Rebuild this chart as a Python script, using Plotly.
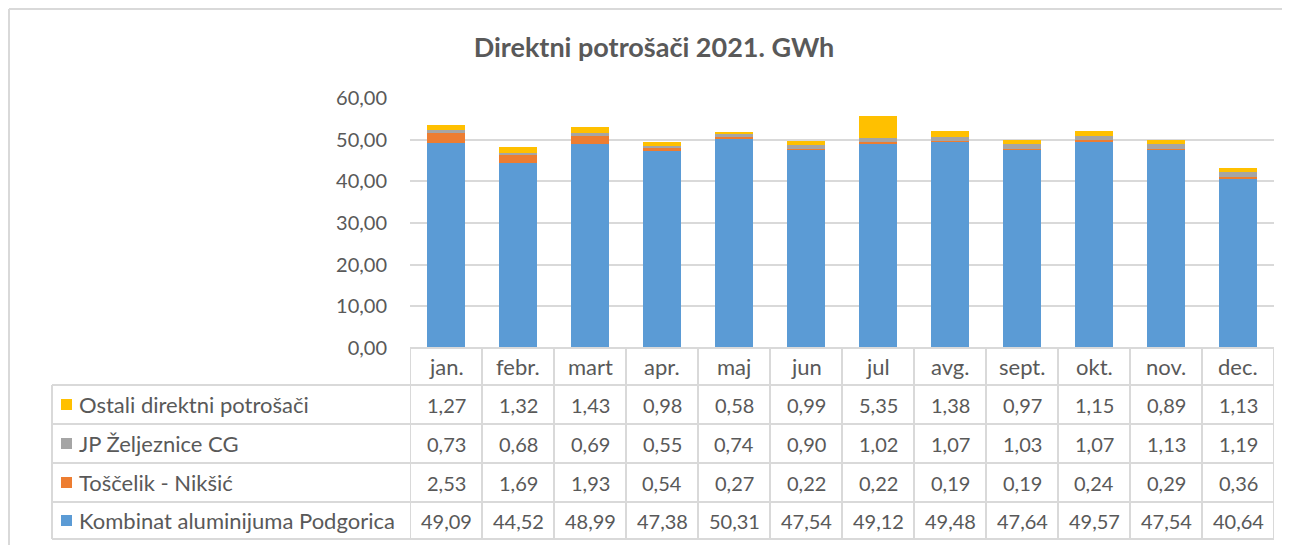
import plotly.graph_objects as go

months = ["jan.", "febr.", "mart", "apr.", "maj", "jun", "jul", "avg.", "sept.", "okt.", "nov.", "dec."]
kap = [49.09, 44.52, 48.99, 47.38, 50.31, 47.54, 49.12, 49.48, 47.64, 49.57, 47.54, 40.64]
toscelik = [2.53, 1.69, 1.93, 0.54, 0.27, 0.22, 0.22, 0.19, 0.19, 0.24, 0.29, 0.36]
zeljeznice = [0.73, 0.68, 0.69, 0.55, 0.74, 0.90, 1.02, 1.07, 1.03, 1.07, 1.13, 1.19]
ostali = [1.27, 1.32, 1.43, 0.98, 0.58, 0.99, 5.35, 1.38, 0.97, 1.15, 0.89, 1.13]

series_names = ["Kombinat aluminijuma Podgorica", "Toščelik - Nikšić", "JP Željeznice CG", "Ostali direktni potrošači"]
series_vals = [kap, toscelik, zeljeznice, ostali]
colors = ["#5B9BD5", "#ED7D31", "#A5A5A5", "#FFC000"]
title = "Direktni potrošači 2021. GWh"

FONT = "Lato"
TXT = "#595959"
GRID = "#D9D9D9"
FS_NUM = 20
FS_TXT = 22

OFF = 8  # page body margin
Wfig, Hfig = 1282, 537
# reference screen coordinates
L, R = 410, 1274
T, B = 98, 348
W, H = R - L, B - T


def px(x):
    return (x - L) / W


def py(y):
    return (B - y) / H


fig = go.Figure()
for name, vals, c in zip(series_names, series_vals, colors):
    fig.add_trace(go.Bar(x=months, y=vals, name=name, marker=dict(color=c, line=dict(width=0)),
                         width=0.515, showlegend=False))

shapes = []
annotations = []

# outer chart border (only left and top visible in the frame)
shapes.append(dict(type="line", xref="paper", yref="paper", x0=px(OFF + 1), x1=px(OFF + Wfig), y0=py(OFF + 1), y1=py(OFF + 1),
                   line=dict(color=GRID, width=2), layer="below"))
shapes.append(dict(type="line", xref="paper", yref="paper", x0=px(OFF + 1), x1=px(OFF + 1), y0=py(OFF + 1), y1=py(OFF + Hfig),
                   line=dict(color=GRID, width=2), layer="below"))

# table geometry
row_edges = [348, 385, 424, 463, 502, 539]
left_edge = 52
shapes.append(dict(type="line", xref="paper", yref="paper", x0=0, x1=1, y0=py(row_edges[0]), y1=py(row_edges[0]),
                   line=dict(color=GRID, width=2)))
for yy in row_edges[1:]:
    shapes.append(dict(type="line", xref="paper", yref="paper", x0=px(left_edge), x1=1, y0=py(yy), y1=py(yy),
                       line=dict(color=GRID, width=2)))
for k in range(len(months) + 1):
    shapes.append(dict(type="line", xref="x", yref="paper", x0=k - 0.5, x1=k - 0.5,
                       y0=py(row_edges[0]), y1=py(row_edges[-1]), line=dict(color=GRID, width=2)))
shapes.append(dict(type="line", xref="paper", yref="paper", x0=px(left_edge), x1=px(left_edge),
                   y0=py(row_edges[1]), y1=py(row_edges[-1]), line=dict(color=GRID, width=2)))

# header row month labels
hc = (row_edges[0] + row_edges[1]) / 2
for i, m in enumerate(months):
    annotations.append(dict(x=i, y=py(hc), xref="x", yref="paper", text=m, showarrow=False,
                            font=dict(family=FONT, size=FS_TXT, color=TXT), xanchor="center", yanchor="middle"))

order = [3, 2, 1, 0]
for r, si in enumerate(order):
    yc = (row_edges[r + 1] + row_edges[r + 2]) / 2
    shapes.append(dict(type="rect", xref="paper", yref="paper", x0=px(61), x1=px(72),
                       y0=py(yc + 5.5), y1=py(yc - 5.5), fillcolor=colors[si], line=dict(width=0)))
    annotations.append(dict(x=px(77), y=py(yc), xref="paper", yref="paper", text=series_names[si],
                            showarrow=False, font=dict(family=FONT, size=FS_TXT, color=TXT),
                            xanchor="left", yanchor="middle"))
    for i, v in enumerate(series_vals[si]):
        annotations.append(dict(x=i, y=py(yc), xref="x", yref="paper",
                                text=f"{v:.2f}".replace(".", ","), showarrow=False,
                                font=dict(family=FONT, size=FS_NUM, color=TXT), xanchor="center", yanchor="middle"))

fig.update_layout(
    width=Wfig, height=Hfig,
    barmode="stack",
    separators=", ",
    plot_bgcolor="white", paper_bgcolor="white",
    margin=dict(l=L - OFF, r=Wfig - (R - OFF), t=T - OFF, b=Hfig - (B - OFF), pad=0),
    title=dict(text=title, x=(654 - OFF) / Wfig, xanchor="center", y=1 - (48 - OFF) / Hfig, yanchor="middle",
               font=dict(family=FONT, size=27, color=TXT, weight="bold")),
    xaxis=dict(type="category", range=[-0.5, len(months) - 0.5], showticklabels=False, showgrid=False,
               zeroline=False, showline=False, ticks=""),
    yaxis=dict(range=[0, 60], tickvals=[0, 10, 20, 30, 40, 50, 60], tickformat=".2f",
               showgrid=True, gridcolor=GRID, gridwidth=2, zeroline=False, showline=False,
               tickfont=dict(family=FONT, size=FS_NUM, color=TXT), ticklabelstandoff=22),
    shapes=shapes,
    annotations=annotations,
)

fig.write_html("out.html")
